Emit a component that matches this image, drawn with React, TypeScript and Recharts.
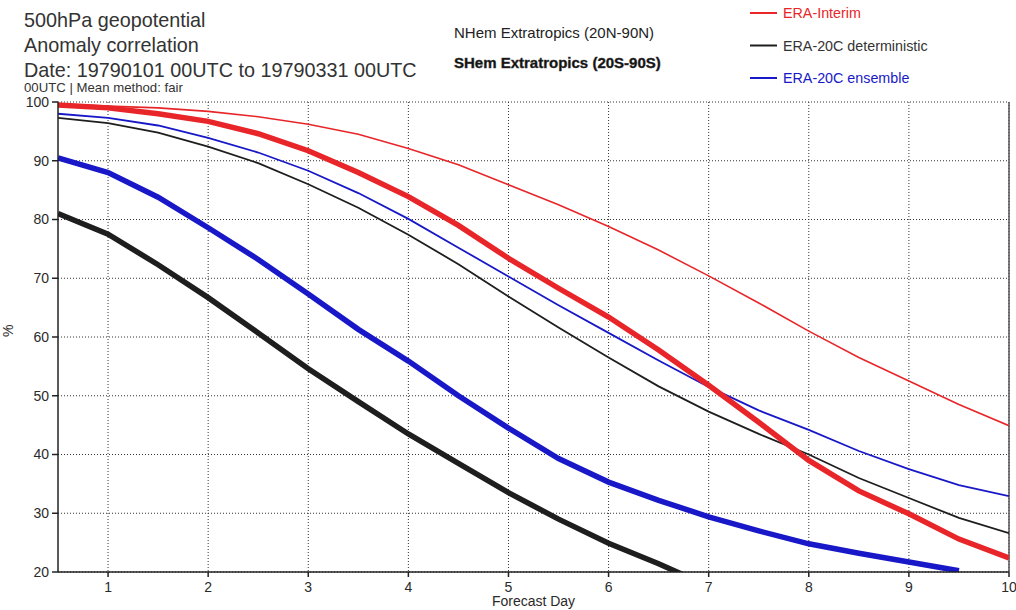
import React from "react";
import { LineChart, Line, XAxis, YAxis, CartesianGrid, ReferenceLine } from "recharts";

const days = [0.5, 1, 1.5, 2, 2.5, 3, 3.5, 4, 4.5, 5, 5.5, 6, 6.5, 7, 7.5, 8, 8.5, 9, 9.5, 10];

// NHem (thin)
const nhEraInterim = [99.7, 99.3, 99.0, 98.4, 97.5, 96.2, 94.5, 92.1, 89.3, 85.9, 82.5, 78.8, 74.8, 70.4, 65.8, 61.0, 56.5, 52.5, 48.5, 44.9];
const nhEra20cDet = [97.3, 96.4, 94.8, 92.4, 89.6, 86.0, 82.0, 77.4, 72.4, 66.9, 61.6, 56.5, 51.6, 47.3, 43.5, 40.0, 36.0, 32.6, 29.2, 26.6];
const nhEra20cEns = [98.0, 97.3, 96.0, 93.9, 91.4, 88.3, 84.5, 80.1, 75.2, 70.3, 65.4, 60.7, 56.0, 51.5, 47.5, 44.2, 40.6, 37.5, 34.8, 32.9];
// SHem (thick)
const shEraInterim = [99.5, 99.0, 98.0, 96.7, 94.6, 91.7, 88.0, 83.9, 79.0, 73.4, 68.3, 63.4, 57.8, 51.8, 45.5, 39.0, 33.8, 29.9, 25.6, 22.4];
const shEra20cDet = [81.0, 77.5, 72.3, 66.7, 60.7, 54.6, 49.0, 43.5, 38.5, 33.5, 29.0, 24.9, 21.4, 17.6, null, null, null, null, null, null];
const shEra20cEns = [90.5, 88.0, 83.8, 78.6, 73.2, 67.3, 61.3, 55.9, 50.0, 44.5, 39.3, 35.3, 32.2, 29.4, 27.0, 24.8, 23.2, 21.7, 20.2, null];

const xTicks = [1, 2, 3, 4, 5, 6, 7, 8, 9, 10];
const yTicks = [20, 30, 40, 50, 60, 70, 80, 90, 100];

const seriesNames = ["ERA-Interim", "ERA-20C deterministic", "ERA-20C ensemble"];
const seriesColors = ["#e8262a", "#1e1e1e", "#1818c8"];
const legendTextColors = ["#e8262a", "#333333", "#1818c8"];

const titleLines = ["500hPa geopotential", "Anomaly correlation", "Date: 19790101 00UTC to 19790331 00UTC"];
const subTitle = "00UTC | Mean method: fair";
const regionLabels = ["NHem Extratropics (20N-90N)", "SHem Extratropics (20S-90S)"];

const data = days.map((d, i) => ({
  day: d,
  nhI: nhEraInterim[i],
  nhD: nhEra20cDet[i],
  nhE: nhEra20cEns[i],
  shI: shEraInterim[i],
  shD: shEra20cDet[i],
  shE: shEra20cEns[i],
}));

const FONT = "'Liberation Sans', Arial, Helvetica, sans-serif";

export default function App() {
  return (
    <div style={{ position: "absolute", left: 0, top: 0, width: 1016, height: 610, background: "#fff", fontFamily: FONT }}>
      <LineChart
        width={1016}
        height={610}
        data={data}
        margin={{ top: 102, right: 7, bottom: 0, left: 0 }}
        style={{ fontFamily: FONT }}
      >
        <CartesianGrid stroke="#333" strokeDasharray="1 2" horizontalValues={yTicks} verticalValues={xTicks} />
        <XAxis
          dataKey="day"
          type="number"
          domain={[0.5, 10]}
          ticks={xTicks}
          allowDataOverflow
          height={38}
          tickSize={5}
          tickMargin={5}
          stroke="#222"
          strokeWidth={1.5}
          tick={{ fill: "#2a2a2a", fontSize: 14 }}
          label={{ value: "Forecast Day", position: "insideBottom", offset: 4, fill: "#2a2a2a", fontSize: 14 }}
        />
        <YAxis
          type="number"
          domain={[20, 100]}
          ticks={yTicks}
          allowDataOverflow
          width={58}
          tickSize={6}
          tickMargin={3}
          stroke="#222"
          strokeWidth={1.5}
          tick={{ fill: "#2a2a2a", fontSize: 14 }}
          label={{ value: "%", angle: -90, position: "insideLeft", offset: 8, fill: "#2a2a2a", fontSize: 14 }}
        />
        <ReferenceLine x={10} stroke="#555" strokeWidth={1.5} />
        <Line dataKey="nhI" stroke={seriesColors[0]} strokeWidth={1.6} dot={false} isAnimationActive={false} type="linear" />
        <Line dataKey="nhD" stroke={seriesColors[1]} strokeWidth={1.8} dot={false} isAnimationActive={false} type="linear" />
        <Line dataKey="nhE" stroke={seriesColors[2]} strokeWidth={1.8} dot={false} isAnimationActive={false} type="linear" />
        <Line dataKey="shD" stroke={seriesColors[1]} strokeWidth={5.5} dot={false} isAnimationActive={false} type="linear" connectNulls={false} />
        <Line dataKey="shE" stroke={seriesColors[2]} strokeWidth={5.5} dot={false} isAnimationActive={false} type="linear" connectNulls={false} />
        <Line dataKey="shI" stroke={seriesColors[0]} strokeWidth={5.5} dot={false} isAnimationActive={false} type="linear" />
      </LineChart>
      <svg width={1016} height={100} style={{ position: "absolute", left: 0, top: 0, pointerEvents: "none", fontFamily: FONT }}>
        {titleLines.map((t, i) => (
          <text key={t} x={24} y={27 + i * 25} fontSize={19.8} fill="#333">{t}</text>
        ))}
        <text x={24} y={92} fontSize={13.2} fill="#333">{subTitle}</text>
        <text x={454} y={38} fontSize={15} fill="#222">{regionLabels[0]}</text>
        <text x={454} y={68} fontSize={15} fontWeight="bold" fill="#111" stroke="#333" strokeWidth={0.4}>{regionLabels[1]}</text>
        {seriesNames.map((n, i) => (
          <g key={n}>
            <line x1={750} x2={777} y1={13 + i * 32.5} y2={13 + i * 32.5} stroke={seriesColors[i]} strokeWidth={2} />
            <text x={783} y={18 + i * 32.5} fontSize={14.3} fill={legendTextColors[i]}>{n}</text>
          </g>
        ))}
      </svg>
    </div>
  );
}
